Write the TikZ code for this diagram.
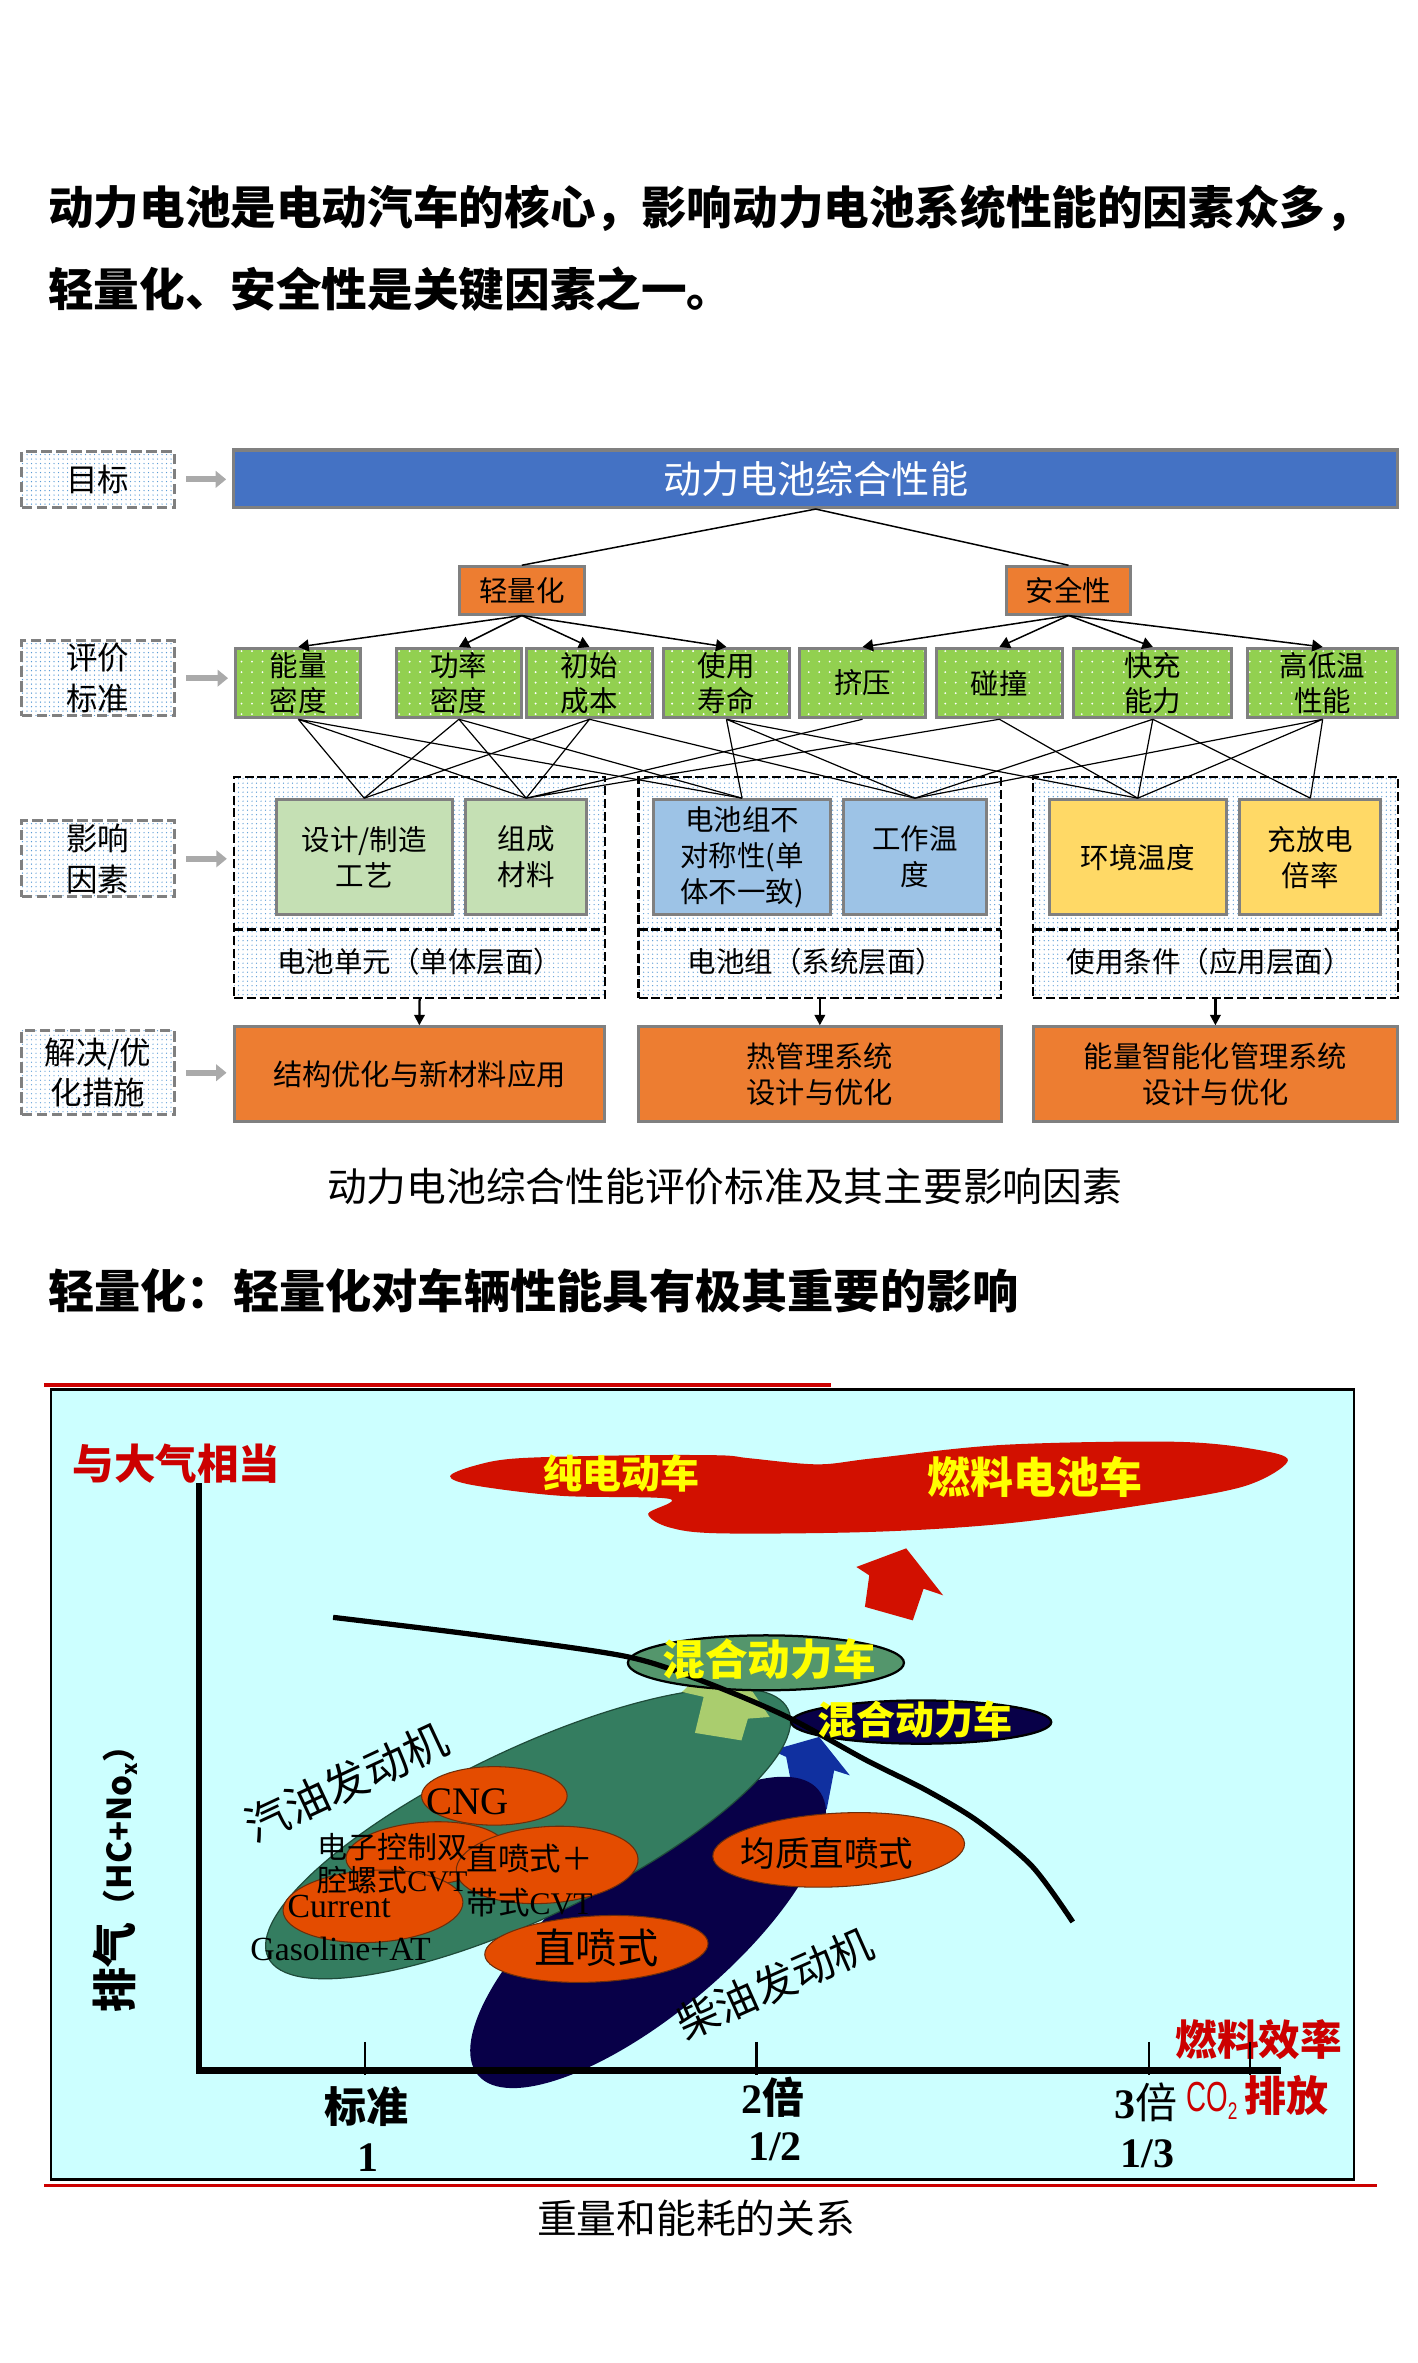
\documentclass[tikz,border=0pt]{standalone}
\usepackage{fontspec}
\setmainfont{Noto Sans CJK SC}
\newfontfamily\latin{Liberation Serif}
\newfontfamily\sans{Liberation Sans}
\usepackage{graphicx}
\usepackage{xcolor}
\definecolor{BarBlue}{RGB}{68,114,196}
\definecolor{BoxOrange}{RGB}{237,125,49}
\definecolor{CritGreen}{RGB}{146,208,80}
\definecolor{UnitGreen}{RGB}{197,224,180}
\definecolor{PackBlue}{RGB}{157,195,230}
\definecolor{UseYellow}{RGB}{255,217,102}
\definecolor{EdgeGray}{RGB}{128,128,128}
\definecolor{DotBlue}{RGB}{91,155,213}
\definecolor{ArrowGray}{RGB}{170,170,170}
\definecolor{ChartCyan}{RGB}{204,255,255}
\definecolor{LineRed}{RGB}{204,0,0}
\definecolor{CloudRed}{RGB}{210,16,0}
\definecolor{SignYellow}{RGB}{255,255,0}
\definecolor{PetrolGreen}{RGB}{52,125,96}
\definecolor{HybridGreen}{RGB}{84,150,108}
\definecolor{PaleGreen}{RGB}{170,205,110}
\definecolor{DieselNavy}{RGB}{8,0,72}
\definecolor{ArrowBlue}{RGB}{16,48,160}
\definecolor{TechOrange}{RGB}{228,76,0}
\definecolor{TechEdge}{RGB}{110,45,10}
\usepackage{tikz}
\usetikzlibrary{arrows.meta,patterns.meta}
\newcommand{\pxfont}[2]{\fontsize{#1}{#2}\selectfont}
\tikzset{
  headline/.style={anchor=west, inner sep=0pt, font=\pxfont{30.4}{36}\bfseries},
  caption/.style={inner sep=0pt, font=\pxfont{26.5}{32}},
  labelbox/.style={draw=EdgeGray, line width=2pt, dash pattern=on 7pt off 3pt, pattern={Dots[distance=3pt,radius=0.45pt]}, pattern color=DotBlue, minimum width=101.5pt, inner sep=0pt, align=center, font=\pxfont{21}{27}},
  perfbar/.style={draw=EdgeGray, line width=2.2pt, fill=BarBlue, text=white, minimum width=775.7pt, minimum height=38.2pt, inner sep=0pt, font=\pxfont{25.4}{30}},
  aimbox/.style={draw=EdgeGray, line width=2pt, fill=BoxOrange, minimum height=31.5pt, inner sep=0pt, font=\pxfont{19}{23}},
  critbox/.style={draw=EdgeGray, line width=2pt, preaction={fill=CritGreen}, pattern={Dots[distance=7pt,radius=0.7pt]}, pattern color=white, minimum height=46.2pt, inner sep=0pt, align=center, font=\pxfont{19}{23.4}},
  groupbox/.style={draw=black, line width=1.6pt, dash pattern=on 6pt off 2.5pt, pattern={Dots[distance=3pt,radius=0.45pt]}, pattern color=DotBlue, minimum height=147.2pt, inner sep=0pt},
  groupline/.style={line width=1.6pt, dash pattern=on 6pt off 2.5pt},
  grouptext/.style={inner sep=0pt, font=\pxfont{19}{23}},
  factbox/.style={draw=EdgeGray, line width=2pt, minimum height=76.6pt, inner sep=0pt, align=center, font=\pxfont{19}{24}},
  solbox/.style={draw=EdgeGray, line width=2pt, fill=BoxOrange, minimum height=63.4pt, inner sep=0pt, align=center, font=\pxfont{19.5}{24.5}},
  fatarrow/.style={draw=ArrowGray, line width=4pt, -{Triangle[length=7pt,width=11pt]}, shorten <=7pt, shorten >=4pt},
  treeline/.style={line width=1pt},
  treearrow/.style={line width=1pt, -{Triangle[length=7pt,width=8pt]}},
  linkline/.style={line width=0.8pt},
  downarrow/.style={line width=1.5pt, -{Triangle[length=7pt,width=7pt]}},
  techoval/.style={fill=TechOrange, draw=TechEdge, line width=0.7pt},
  signtext/.style={inner sep=0pt, text=SignYellow},
  plaintext/.style={inner sep=0pt}
}

\begin{document}
\begin{tikzpicture}[x=1pt,y=-1pt]
            \useasboundingbox (0,0) rectangle (945,1575);
            \node[headline] (head1) at (32,138.5) {动力电池是电动汽车的核心，影响动力电池系统性能的因素众多，};
            \node[headline] (head2) at (32,192.5) {轻量化、安全性是关键因素之一。};

            \node[labelbox, minimum height=37pt] (lab1) at (65.3,319.5) {目标};
            \node[labelbox, minimum height=50pt] (lab2) at (65.3,452) {评价\\标准};
            \node[labelbox, minimum height=50.8pt] (lab3) at (65.3,572.4) {影响\\因素};
            \node[labelbox, minimum height=56pt] (lab4) at (65.3,715) {解决/优\\化措施};

            \node[perfbar] (perf) at (543.7,319.1) {动力电池综合性能};
            \node[aimbox, minimum width=83.6pt] (light) at (347.8,393.5) {轻量化};
            \node[aimbox, minimum width=82.9pt] (safe) at (712.2,393.5) {安全性};

            \node[critbox, minimum width=83.6pt] (c1) at (198.8,455.3) {能量\\密度};
            \node[critbox, minimum width=82.9pt] (c2) at (305.9,455.3) {功率\\密度};
            \node[critbox, minimum width=83.8pt] (c3) at (392.9,455.3) {初始\\成本};
            \node[critbox, minimum width=83.7pt] (c4) at (484.2,455.3) {使用\\寿命};
            \node[critbox, minimum width=83.8pt] (c5) at (574.9,455.3) {挤压};
            \node[critbox, minimum width=83.6pt] (c6) at (666.1,455.3) {碰撞};
            \node[critbox, minimum width=105.3pt] (c7) at (768.4,455.3) {快充\\能力};
            \node[critbox, minimum width=100.1pt] (c8) at (881.6,455.3) {高低温\\性能};

            \node[groupbox, minimum width=247.4pt] (con1) at (279.7,591.4) {};
            \node[groupbox, minimum width=241.5pt] (con2) at (546.45,591.4) {};
            \node[groupbox, minimum width=243pt] (con3) at (810.1,591.4) {};
            \draw[groupline] (156,619.6) -- (403.4,619.6);
            \draw[groupline] (425.7,619.6) -- (667.2,619.6);
            \draw[groupline] (688.6,619.6) -- (931.6,619.6);
            \node[grouptext] (lvl1) at (279.7,641) {电池单元（单体层面）};
            \node[grouptext] (lvl2) at (544,641) {电池组（系统层面）};
            \node[grouptext] (lvl3) at (806,641) {使用条件（应用层面）};

            \node[factbox, fill=UnitGreen, minimum width=117.5pt] (f1) at (242.75,571.3) {设计/制造\\工艺};
            \node[factbox, fill=UnitGreen, minimum width=80.5pt] (f2) at (350.75,571.3) {组成\\材料};
            \node[factbox, fill=PackBlue, minimum width=117.8pt] (f3) at (494.6,571.3) {电池组不\\对称性(单\\体不一致)};
            \node[factbox, fill=PackBlue, minimum width=94.7pt] (f4) at (609.85,571.3) {工作温\\度};
            \node[factbox, fill=UseYellow, minimum width=117.9pt] (f5) at (758.35,571.3) {环境温度};
            \node[factbox, fill=UseYellow, minimum width=94pt] (f6) at (873.4,571.3) {充放电\\倍率};

            \node[solbox, minimum width=247pt] (sol1) at (279.5,716.1) {结构优化与新材料应用};
            \node[solbox, minimum width=241.5pt] (sol2) at (546.45,716.1) {热管理系统\\设计与优化};
            \node[solbox, minimum width=243pt] (sol3) at (810.1,716.1) {能量智能化管理系统\\设计与优化};

            \draw[fatarrow] (lab1.east) -- (lab1.east -| perf.west);
            \draw[fatarrow] (lab2.east) -- (lab2.east -| c1.west);
            \draw[fatarrow] (lab3.east) -- (lab3.east -| con1.west);
            \draw[fatarrow] (lab4.east) -- (lab4.east -| sol1.west);

            \draw[treeline] (perf.south) -- (light.north) (perf.south) -- (safe.north);
            \draw[treearrow] (light.south) -- (c1.north);
            \draw[treearrow] (light.south) -- (c2.north);
            \draw[treearrow] (light.south) -- (c3.north);
            \draw[treearrow] (light.south) -- (c4.north);
            \draw[treearrow] (safe.south) -- (c5.north);
            \draw[treearrow] (safe.south) -- (c6.north);
            \draw[treearrow] (safe.south) -- (c7.north);
            \draw[treearrow] (safe.south) -- (c8.north);

            \draw[linkline] (c1.south) -- (f1.north) (c1.south) -- (f2.north) (c1.south) -- (f3.north);
            \draw[linkline] (c2.south) -- (f1.north) (c2.south) -- (f2.north) (c2.south) -- (f3.north);
            \draw[linkline] (c3.south) -- (f1.north) (c3.south) -- (f2.north) (c3.south) -- (f4.north);
            \draw[linkline] (c4.south) -- (f3.north) (c4.south) -- (f4.north) (c4.south) -- (f5.north);
            \draw[linkline] (c5.south) -- (f2.north) (c6.south) -- (f2.north) (c6.south) -- (f5.north);
            \draw[linkline] (c7.south) -- (f4.north) (c7.south) -- (f5.north) (c7.south) -- (f6.north);
            \draw[linkline] (c8.south) -- (f4.north) (c8.south) -- (f5.north) (c8.south) -- (f6.north);

            \draw[downarrow] (con1.south) -- (sol1.north);
            \draw[downarrow] (con2.south) -- (sol2.north);
            \draw[downarrow] (con3.south) -- (sol3.north);

            \node[caption] (cap1) at (483,790.5) {动力电池综合性能评价标准及其主要影响因素};
            \node[headline, font=\pxfont{30.8}{36}\bfseries] (head3) at (32,860.5) {轻量化：轻量化对车辆性能具有极其重要的影响};

            \draw[line width=1.5pt, fill=ChartCyan] (33.9,926.2) rectangle (902.3,1452.7);
            \draw[LineRed, line width=3pt] (29.5,923.2) -- (554,923.2);
            \draw[LineRed, line width=2pt] (29.5,1456.7) -- (917.7,1456.7);

            \fill[CloudRed] plot[smooth cycle, tension=0.55] coordinates {(300,984) (316,977) (345,972) (420,970) (480,970) (500,972) (545,976) (582,972) (669,963) (785,961) (842,967) (858,974.5) (828,991) (756,1004) (669,1015.6) (582,1021) (480,1022) (446,1018) (432,1009) (446,999) (374,997) (316,990)};
            \fill[CloudRed] (604,1032) -- (628.6,1063.3) -- (615.6,1058.9) -- (608.4,1080) -- (576.5,1071) -- (579.4,1050) -- (570.8,1044.4) -- cycle;
            \fill[ArrowBlue] (546,1157.7) -- (566.4,1183.3) -- (556,1180) -- (551,1206) -- (530,1202) -- (524,1171) -- (514.4,1166.7) -- cycle;
            \fill[DieselNavy, rotate around={40:(432,1288)}] (432,1288) ellipse [x radius=148, y radius=54];
            \draw[fill=PetrolGreen, draw=PetrolGreen!60!black, line width=0.8pt, rotate around={25.5:(352,1222)}] (352,1222) ellipse [x radius=192, y radius=56];
            \fill[PaleGreen] (483,1100) -- (513,1144.4) -- (498.5,1145.5) -- (494.2,1160) -- (463.2,1155) -- (469,1131) -- (454.6,1127.7) -- cycle;
            \draw[fill=HybridGreen, line width=1.5pt] (510.5,1108.3) ellipse [x radius=92, y radius=18.3];
            \draw[fill=DieselNavy, line width=1.5pt] (614,1147.8) ellipse [x radius=86.7, y radius=14.4];

            \draw[techoval] (329.5,1197) ellipse [x radius=48.5, y radius=19.5];
            \draw[techoval, rotate around={4:(284,1235.5)}] (284,1235.5) ellipse [x radius=53.5, y radius=21];
            \draw[techoval, rotate around={4:(364.7,1243)}] (364.7,1243) ellipse [x radius=60.7, y radius=25.5];
            \draw[techoval, rotate around={3:(248.6,1270.6)}] (248.6,1270.6) ellipse [x radius=60, y radius=24];
            \draw[techoval, rotate around={3:(397.5,1299)}] (397.5,1299) ellipse [x radius=74.5, y radius=22];
            \draw[techoval, rotate around={3:(559,1233)}] (559,1233) ellipse [x radius=84, y radius=24.5];

            \draw[line width=3.5pt] plot[smooth] coordinates {(222,1078) (320,1090) (417,1104) (467,1120) (524,1144) (577,1173) (617,1193) (652,1214) (688,1244) (715,1281)};
            \draw[line width=4.5pt] (132.7,988.7) -- (132.7,1380) -- (854,1380);

            \node[plaintext, text=LineRed, font=\pxfont{27.7}{30}\bfseries] (equal) at (117.7,975.6) {与大气相当};
            \node[signtext, font=\pxfont{26}{30}\bfseries] (bev) at (414,982) {纯电动车};
            \node[signtext, font=\pxfont{28.6}{32}\bfseries] (fcv) at (690,984.4) {燃料电池车};
            \node[signtext, font=\pxfont{28.4}{32}\bfseries] (hev1) at (512.7,1106) {混合动力车};
            \node[signtext, font=\pxfont{26}{30}\bfseries] (hev2) at (609.8,1146) {混合动力车};
            \node[plaintext, rotate=25, font=\pxfont{29}{32}] (petrol) at (231,1188) {汽油发动机};
            \node[plaintext, rotate=24, font=\pxfont{28}{32}] (diesel) at (516.5,1322) {柴油发动机};
            \node[plaintext, font=\pxfont{26}{30}\latin] (cng) at (311.5,1201) {CNG};
            \node[plaintext, align=center, font=\pxfont{20}{22}] (ecvt) at (261.5,1242) {电子控制双\\腔螺式{\latin CVT}};
            \node[plaintext, align=center, font=\pxfont{21}{29}] (dicvt) at (353,1253.5) {直喷式＋\\带式{\latin CVT}};
            \node[plaintext, font=\pxfont{22.5}{26}\latin] (cur) at (226,1271) {Current};
            \node[plaintext, font=\pxfont{22.5}{26}\latin] (gat) at (227,1299) {Gasoline+AT};
            \node[plaintext, font=\pxfont{27.5}{30}] (di) at (397.5,1298) {直喷式};
            \node[plaintext, font=\pxfont{23}{26}] (hcdi) at (551.3,1235) {均质直喷式};

            \node[plaintext, rotate=90, font=\pxfont{22}{26}\bfseries] (exh) at (77,1247) {{\pxfont{30}{32}排气}（HC+No\raisebox{-4pt}{\pxfont{14}{14}x}）};
            \node[plaintext, font=\pxfont{28}{30}\bfseries] (std) at (244.2,1404) {标准};
            \node[plaintext, font=\pxfont{28}{30}\bfseries\latin] (one) at (245,1438.4) {1};
            \node[plaintext, font=\pxfont{28}{30}\bfseries] (two) at (515,1397.8) {{\latin 2}倍};
            \node[plaintext, font=\pxfont{28}{30}\bfseries\latin] (half) at (516.5,1431) {1/2};
            \node[plaintext, font=\pxfont{28}{30}] (three) at (764,1401) {{\latin\bfseries 3}倍};
            \node[plaintext, font=\pxfont{28}{30}\bfseries\latin] (third) at (765,1435.5) {1/3};
            \node[plaintext, text=LineRed, font=\pxfont{27.8}{30}\bfseries] (eff) at (839,1359.4) {燃料效率};
            \node[plaintext, text=LineRed, font=\pxfont{28}{30}\bfseries] (co2) at (838,1398) {{\sans\mdseries\scalebox{0.66}[1]{CO}\raisebox{-5pt}{\pxfont{16}{16}\scalebox{0.72}[1]{2}}}\,排放};
            \draw[line width=1.5pt] (243.4,1361) -- (243.4,1383) (504.3,1361) -- (504.3,1383) (766,1361) -- (766,1383) (833,1361) -- (833,1383);

            \node[caption] (cap2) at (464,1478.5) {重量和能耗的关系};
        \end{tikzpicture}
\end{document}
